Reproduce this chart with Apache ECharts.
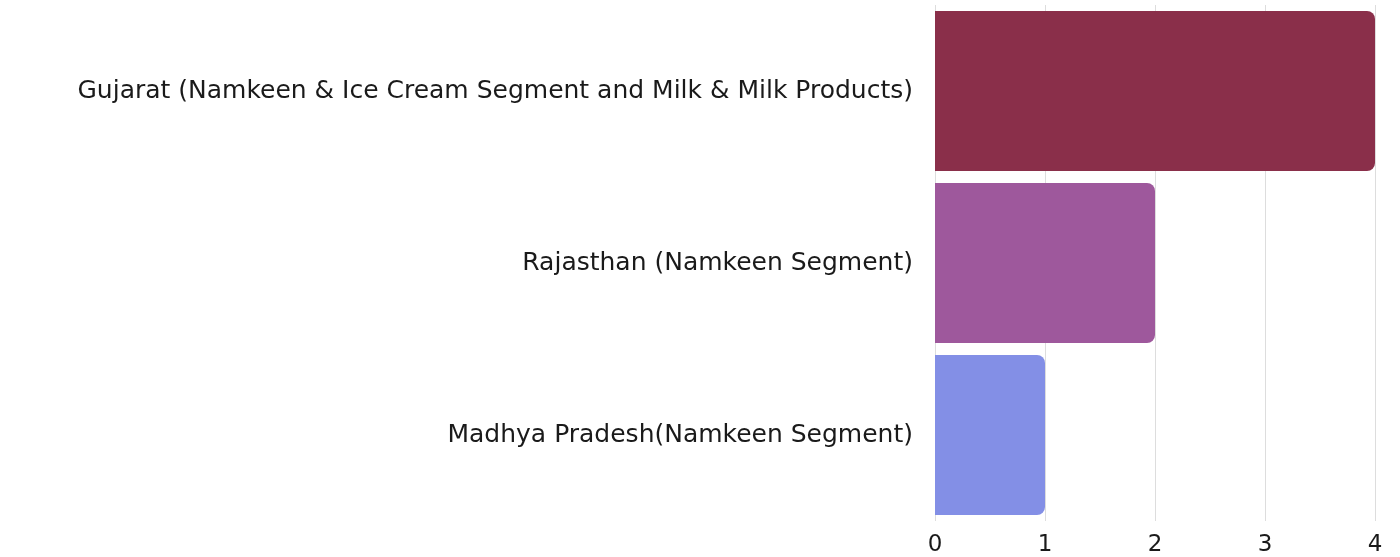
<!DOCTYPE html>
<html><head><meta charset="utf-8">
<script src="https://cdn.jsdelivr.net/npm/echarts@6/dist/echarts.min.js"></script>
<style>html,body{margin:0;padding:0;background:#fff}#c{width:1400px;height:557px}</style>
</head><body><div id="c"></div>
<script>
const categories = [
  "Gujarat (Namkeen & Ice Cream Segment and Milk & Milk Products)",
  "Rajasthan (Namkeen Segment)",
  "Madhya Pradesh(Namkeen Segment)"
];
const values = [4, 2, 1];
const barColors = ["#8a2f4a", "#9e589c", "#838fe6"];
const xTicks = [0, 1, 2, 3, 4];

const chart = echarts.init(document.getElementById('c'), null, {renderer: 'canvas'});
const font = "'DejaVu Sans', sans-serif";
chart.setOption({
  animation: false,
  grid: {left: 935, right: 25, top: 5, bottom: 32, containLabel: false},
  xAxis: {
    type: 'value', min: xTicks[0], max: xTicks[xTicks.length-1], interval: 1,
    axisLine: {show: false}, axisTick: {show: false},
    splitLine: {show: true, lineStyle: {color: '#dddddd', width: 1}},
    axisLabel: {color: '#1a1a1a', fontSize: 23, fontFamily: font, margin: 13}
  },
  yAxis: {
    type: 'category', data: categories, inverse: true,
    axisLine: {show: false}, axisTick: {show: false},
    axisLabel: {color: '#1a1a1a', fontSize: 25, fontFamily: font, margin: 22, lineHeight: 30, padding: [4, 0, 0, 0]}
  },
  series: [{
    type: 'bar', barWidth: 160,
    data: values.map((v, i) => ({value: v, itemStyle: {color: barColors[i]}})),
    itemStyle: {borderRadius: [0, 8, 8, 0]}
  }]
});
</script></body></html>
